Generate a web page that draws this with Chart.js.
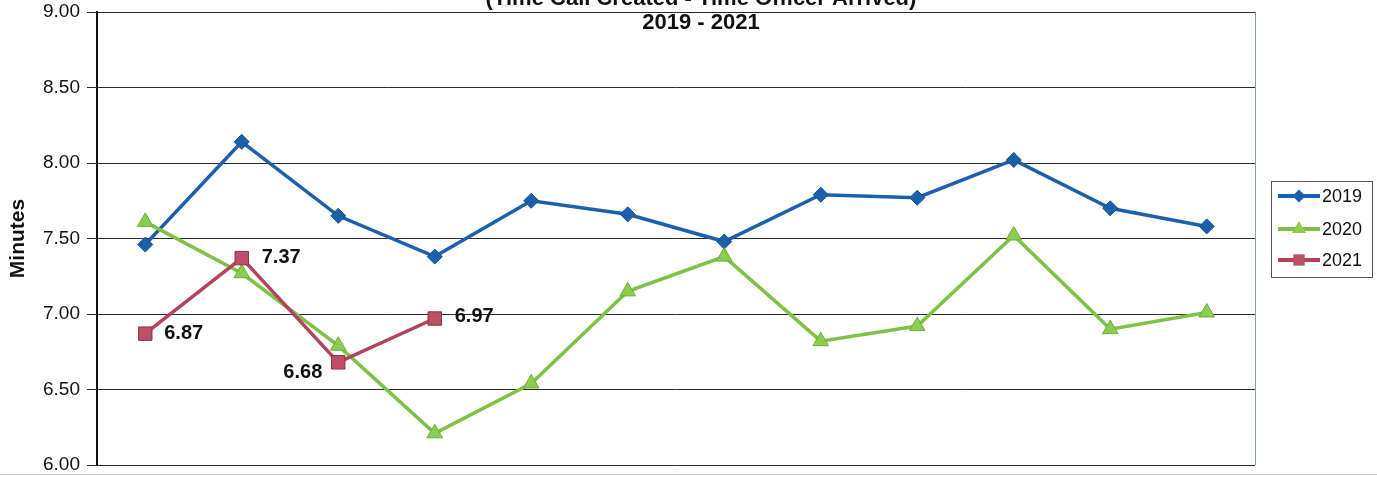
<!DOCTYPE html>
<html>
<head>
<meta charset="utf-8">
<script src="https://cdn.jsdelivr.net/npm/chart.js@4.4.1/dist/chart.umd.min.js"></script>
<style>
  html, body { margin: 0; padding: 0; background: #ffffff; }
  #wrap { width: 1377px; height: 477px; }
</style>
</head>
<body>
<div id="wrap"><canvas id="c" width="1377" height="477"></canvas></div>
<script>
const categories = ["Jan", "Feb", "Mar", "Apr", "May", "Jun", "Jul", "Aug", "Sep", "Oct", "Nov", "Dec"];
const series2019 = [7.46, 8.14, 7.65, 7.38, 7.75, 7.66, 7.48, 7.79, 7.77, 8.02, 7.70, 7.58];
const series2020 = [7.61, 7.27, 6.79, 6.21, 6.54, 7.15, 7.38, 6.82, 6.92, 7.52, 6.90, 7.01];
const series2021 = [6.87, 7.37, 6.68, 6.97];
const seriesNames = ["2019", "2020", "2021"];
const titleLine1 = "(Time Call Created - Time Officer Arrived)";
const titleLine2 = "2019 - 2021";
const yTitle = "Minutes";
const yMin = 6, yMax = 9, yStep = 0.5;

const FONT = "'Liberation Sans', Arial, sans-serif";
const colors = {
  "2019": { line: "#1c60ad", fill: "#1c60ad", border: "#15508f" },
  "2020": { line: "#7dc246", fill: "#8ccc50", border: "#6aae38" },
  "2021": { line: "#b2435a", fill: "#bb4f65", border: "#962b43" }
};

// label placement for 2021 values: [dx, dy, align]
const labelPlacement = [
  [19, 0, "left"],
  [20, -1, "left"],
  [-16, 10, "right"],
  [20, -2, "left"]
];

const extrasPlugin = {
  id: "extras",
  afterDraw(chart) {
    const ctx = chart.ctx;
    const a = chart.chartArea;
    ctx.save();
    // right plot border
    ctx.strokeStyle = "#8a9bb0";
    ctx.lineWidth = 1;
    ctx.beginPath();
    ctx.moveTo(a.right + 0.5, a.top);
    ctx.lineTo(a.right + 0.5, a.bottom);
    ctx.stroke();
    // faint outer line at bottom
    ctx.strokeStyle = "#c8ccd2";
    ctx.beginPath();
    ctx.moveTo(0, 474.5);
    ctx.lineTo(1377, 474.5);
    ctx.stroke();

    // titles
    ctx.fillStyle = "#111";
    ctx.textAlign = "center";
    ctx.textBaseline = "alphabetic";
    ctx.font = "bold 22px " + FONT;
    ctx.fillText(titleLine1, 701, 5);
    ctx.fillText(titleLine2, 701, 29);

    // data labels for 2021
    const meta = chart.getDatasetMeta(2);
    ctx.font = "bold 20px " + FONT;
    ctx.textBaseline = "middle";
    meta.data.forEach((pt, i) => {
      const p = labelPlacement[i];
      ctx.textAlign = p[2];
      ctx.fillText(series2021[i].toFixed(2), pt.x + p[0], pt.y + p[1]);
    });

    // legend
    const lx = 1271, ly = 181, lw = 101, lh = 96;
    ctx.fillStyle = "#ffffff";
    ctx.fillRect(lx, ly, lw, lh);
    ctx.strokeStyle = "#555";
    ctx.lineWidth = 1;
    ctx.strokeRect(lx + 0.5, ly + 0.5, lw, lh);
    const rows = [196, 229, 260];
    const styles = ["rectRot", "triangle", "rect"];
    const radii = [6.5, 8, 8];
    seriesNames.forEach((name, i) => {
      const c = colors[name];
      const y = rows[i];
      ctx.strokeStyle = c.line;
      ctx.lineWidth = 4;
      ctx.beginPath();
      ctx.moveTo(1278, y);
      ctx.lineTo(1320, y);
      ctx.stroke();
      ctx.fillStyle = c.fill;
      ctx.strokeStyle = c.border;
      ctx.lineWidth = 1;
      Chart.helpers.drawPoint(ctx, { pointStyle: styles[i], radius: radii[i], rotation: 0 }, 1299, y);
      ctx.fillStyle = "#111";
      ctx.font = "18px " + FONT;
      ctx.textAlign = "left";
      ctx.textBaseline = "middle";
      ctx.fillText(name, 1322, y + 1);
    });
    ctx.restore();
  }
};

const bgPlugin = {
  id: "bg",
  beforeDraw(chart) {
    const ctx = chart.ctx;
    ctx.save();
    ctx.fillStyle = "#ffffff";
    ctx.fillRect(0, 0, chart.width, chart.height);
    ctx.restore();
  }
};

new Chart(document.getElementById("c"), {
  type: "line",
  data: {
    labels: categories,
    datasets: [
      {
        label: seriesNames[0], data: series2019, order: 2,
        borderColor: colors["2019"].line, backgroundColor: colors["2019"].fill,
        pointBorderColor: colors["2019"].border, pointBackgroundColor: colors["2019"].fill,
        borderWidth: 3.5, pointStyle: "rectRot", pointRadius: 7.5, pointBorderWidth: 1, tension: 0
      },
      {
        label: seriesNames[1], data: series2020, order: 1,
        borderColor: colors["2020"].line, backgroundColor: colors["2020"].fill,
        pointBorderColor: colors["2020"].border, pointBackgroundColor: colors["2020"].fill,
        borderWidth: 3.5, pointStyle: "triangle", pointRadius: 9, pointBorderWidth: 1, tension: 0
      },
      {
        label: seriesNames[2], data: series2021, order: 0,
        borderColor: colors["2021"].line, backgroundColor: colors["2021"].fill,
        pointBorderColor: colors["2021"].border, pointBackgroundColor: colors["2021"].fill,
        borderWidth: 3.5, pointStyle: "rect", pointRadius: 9.5, pointBorderWidth: 1, tension: 0
      }
    ]
  },
  options: {
    responsive: false,
    animation: false,
    devicePixelRatio: 1,
    layout: { padding: { top: 12, right: 122, bottom: 12, left: 0 } },
    plugins: {
      legend: { display: false },
      title: { display: false },
      tooltip: { enabled: false }
    },
    scales: {
      x: {
        offset: true,
        ticks: { display: false },
        grid: { display: false },
        border: { display: false },
        afterFit(scale) { scale.height = 0; scale.paddingLeft = 0; scale.paddingRight = 0; }
      },
      y: {
        min: yMin, max: yMax,
        afterFit(scale) { scale.width = 97; scale.paddingTop = 0; scale.paddingBottom = 0; },
        ticks: {
          stepSize: yStep,
          padding: 7,
          color: "#111",
          font: { family: FONT, size: 19 },
          callback: (v) => Number(v).toFixed(2)
        },
        grid: { color: "#2a2a2a", lineWidth: 1, tickLength: 10, drawTicks: true },
        border: { display: true, color: "#111", width: 2 },
        title: {
          display: true, text: yTitle, color: "#111",
          font: { family: FONT, size: 21, weight: "bold" },
          padding: { top: 6, bottom: 0 }
        }
      }
    }
  },
  plugins: [bgPlugin, extrasPlugin]
});
</script>
</body>
</html>
